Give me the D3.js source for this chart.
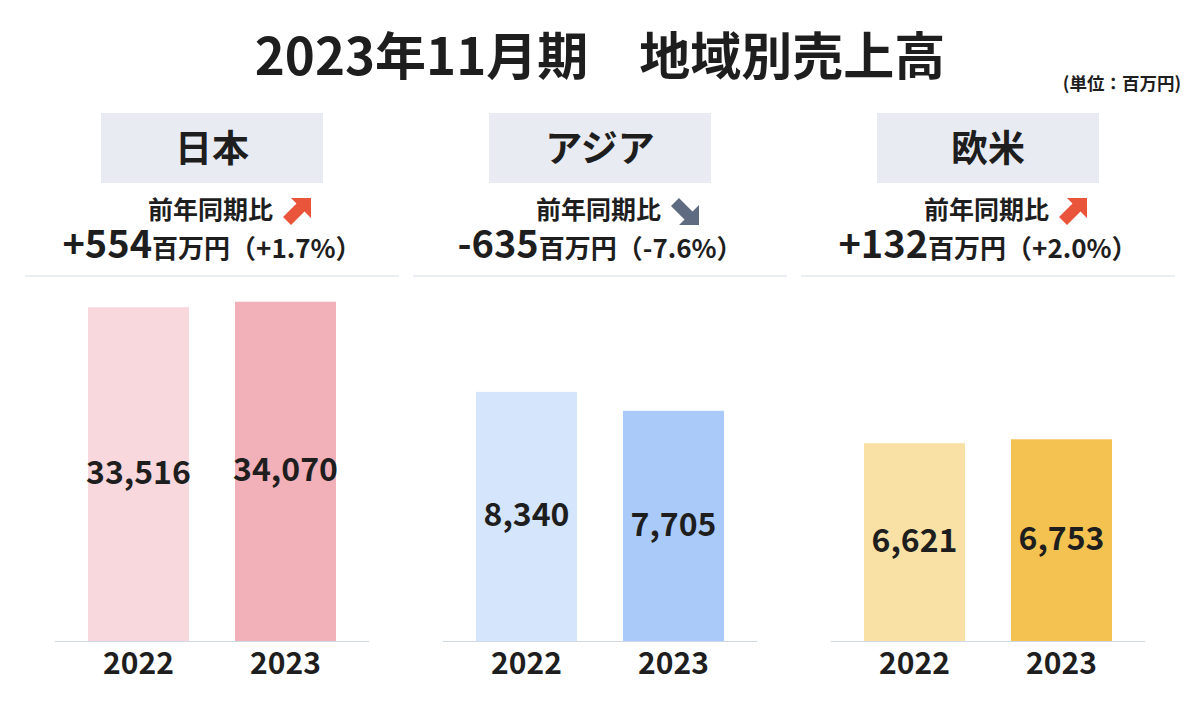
<!DOCTYPE html>
<html><head><meta charset="utf-8">
<script src="https://cdn.jsdelivr.net/npm/d3@7"></script>
<style>
html,body{margin:0;padding:0;background:#fff;}
svg{display:block;font-family:"Noto Sans CJK JP","Noto Sans",sans-serif;}
</style></head>
<body>
<svg id="chart" width="1200" height="720"></svg>
<script>
const title = "2023年11月期　地域別売上高";
const unitLabel = "(単位：百万円)";
const regions = ["日本", "アジア", "欧米"];
const years = ["2022", "2023"];
const sales2022 = [33516, 8340, 6621];
const sales2023 = [34070, 7705, 6753];
const diffLabels = ["+554", "-635", "+132"];
const pctLabels = ["（+1.7%）", "（-7.6%）", "（+2.0%）"];
const yMax = [36000, 12000, 12000];
const colors2022 = ["#f8d7dd", "#d4e5fc", "#f9e1a6"];
const colors2023 = ["#f2b0b8", "#aacbfa", "#f4c250"];

const svg = d3.select("#chart");
const ink = "#1e1e1e";

svg.append("text").attr("x", 600).attr("y", 75).attr("text-anchor", "middle")
  .attr("font-size", 51).attr("font-weight", 700).attr("fill", ink).text(title);
svg.append("text").attr("x", 1181).attr("y", 90).attr("text-anchor", "end")
  .attr("font-size", 17.5).attr("font-weight", 700).attr("fill", ink).text(unitLabel);

const panelX = d3.scalePoint().domain(regions).range([212, 988]);

regions.forEach((r, i) => {
  const cx = panelX(r);
  const g = svg.append("g");
  g.append("rect").attr("x", cx - 111).attr("y", 113).attr("width", 222).attr("height", 70).attr("fill", "#e8ebf2");
  g.append("text").attr("x", cx).attr("y", 162).attr("text-anchor", "middle")
    .attr("font-size", 37).attr("font-weight", 700).attr("fill", ink).text(r);
  g.append("text").attr("x", cx - 64).attr("y", 219)
    .attr("font-size", 25).attr("font-weight", 700).attr("fill", ink).text("前年同期比");
  const up = !diffLabels[i].startsWith("-");
  const ax = cx + 71, ay = 198;
  const upPath = "M8,0 L28,0 L28,20 L21.5,13.5 L8,27 L0,19 L13.5,5.5 Z";
  const arrow = g.append("path").attr("d", upPath)
    .attr("fill", up ? "#e9553a" : "#5f6b80");
  if (up) arrow.attr("transform", `translate(${ax},${ay})`);
  else arrow.attr("transform", `translate(${ax},${ay + 27}) scale(1,-1)`);
  const t = g.append("text").attr("x", cx).attr("y", 258).attr("text-anchor", "middle")
    .attr("font-weight", 700).attr("fill", ink);
  t.append("tspan").attr("font-size", 38).text(diffLabels[i]);
  t.append("tspan").attr("font-size", 26).attr("font-weight", 600).text("百万円" + pctLabels[i]);
  g.append("line").attr("x1", cx - 187).attr("x2", cx + 187).attr("y1", 276).attr("y2", 276)
    .attr("stroke", "#d6dce8").attr("stroke-width", 1.2);

  const x = d3.scaleBand().domain(years).range([cx - 157, cx + 157]).paddingInner(0.313).paddingOuter(0.2245);
  const y = d3.scaleLinear().domain([0, yMax[i]]).range([641, 282.5]);
  const vals = [sales2022[i], sales2023[i]];
  const cols = [colors2022[i], colors2023[i]];
  years.forEach((yr, j) => {
    g.append("rect").attr("x", x(yr)).attr("width", x.bandwidth())
      .attr("y", y(vals[j])).attr("height", y(0) - y(vals[j])).attr("fill", cols[j]);
    g.append("text").attr("x", x(yr) + x.bandwidth() / 2).attr("y", (y(vals[j]) + y(0)) / 2 + 10)
      .attr("text-anchor", "middle").attr("font-size", 32).attr("font-weight", 700).attr("fill", ink)
      .text(d3.format(",")(vals[j]));
  });
  g.append("line").attr("x1", cx - 157).attr("x2", cx + 157).attr("y1", 641.5).attr("y2", 641.5)
    .attr("stroke", "#cfd8e6").attr("stroke-width", 1.2);
  const xa = g.append("g").attr("transform", "translate(0,641)")
    .call(d3.axisBottom(x).tickSize(0).tickPadding(0));
  xa.select(".domain").remove();
  xa.selectAll("text").attr("font-size", 30).attr("font-weight", 700).attr("fill", ink)
    .attr("font-family", '"Noto Sans CJK JP","Noto Sans",sans-serif').attr("dy", null).attr("y", 33);
});
</script>
</body></html>
